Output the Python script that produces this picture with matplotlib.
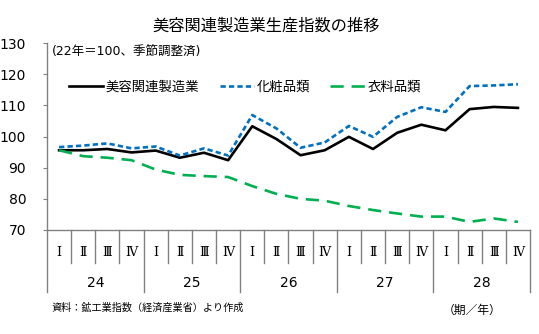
import matplotlib.pyplot as plt
import matplotlib.transforms as mtransforms

plt.rcParams['font.family'] = ['DejaVu Sans', 'Noto Sans CJK JP']

years = ["24", "25", "26", "27", "28"]
quarters = ["Ⅰ", "Ⅱ", "Ⅲ", "Ⅳ"]

beauty = [95.6, 95.6, 96.0, 94.9, 95.5, 93.2, 94.8, 92.4,
          103.3, 99.2, 94.0, 95.6, 99.9, 96.0, 101.2, 103.8,
          102.0, 108.8, 109.5, 109.2]
cosmetics = [96.6, 97.1, 97.8, 96.2, 96.8, 93.9, 96.2, 93.9,
             106.9, 102.6, 96.4, 98.1, 103.4, 99.9, 106.3, 109.4,
             107.9, 116.2, 116.4, 116.8]
clothing = [95.6, 93.7, 93.2, 92.4, 89.4, 87.7, 87.3, 87.0,
            84.1, 81.6, 80.0, 79.4, 77.7, 76.4, 75.3, 74.3,
            74.3, 72.6, 73.7, 72.6]

fig = plt.figure(figsize=(5.39, 3.34), dpi=100)
ax = fig.add_axes([0.0872, 0.3114, 0.8961, 0.5596])

n = len(beauty)
x = [i + 0.5 for i in range(n)]

ax.plot(x, beauty, color='black', lw=1.9, label='美容関連製造業')
ax.plot(x, cosmetics, color='#0070C0', lw=1.9, dashes=(2.0, 1.2), label='化粧品類')
ax.plot(x, clothing, color='#00B050', lw=1.9, dashes=(5.0, 3.0), label='衣料品類')

ax.set_xlim(0, n)
ax.set_ylim(70, 130)
ax.set_yticks(range(70, 131, 10))
ax.set_xticks([])
ax.tick_params(axis='y', length=3, color='#808080', labelsize=10, pad=12)
for s in ['top', 'right']:
    ax.spines[s].set_visible(False)
for s in ['left', 'bottom']:
    ax.spines[s].set_color('#808080')
    ax.spines[s].set_linewidth(1.0)

# category axis below the plot
trans = mtransforms.blended_transform_factory(ax.transData, ax.transAxes)
for i in range(n + 1):
    low = -0.332 if i % 4 == 0 else -0.176
    ax.plot([i, i], [0, low], transform=trans, color='#808080', lw=1.0, clip_on=False)
for i in range(n):
    ax.text(i + 0.5, -0.12, quarters[i % 4], transform=trans, ha='center', va='center',
            fontsize=9, family=['DejaVu Serif', 'Noto Sans CJK JP'])
for k, yr in enumerate(years):
    ax.text(k * 4 + 2, -0.285, yr, transform=trans, ha='center', va='center', fontsize=10)

fig.text(0.493, 0.922, '美容関連製造業生産指数の推移', ha='center', va='center', fontsize=11.7)
ax.text(0.01, 0.95, '(22年＝100、季節調整済)', transform=ax.transAxes, ha='left', va='center',
        fontsize=9)
ax.legend(loc='upper left', bbox_to_anchor=(0.02, 0.865), ncol=3, frameon=False,
          fontsize=9.6, handlelength=2.6, handletextpad=0.2, columnspacing=1.5)

fig.text(0.096, 0.078, '資料：鉱工業指数（経済産業省）より作成', ha='left', va='center', fontsize=7.3)
fig.text(0.822, 0.072, '（期／年）', ha='left', va='center', fontsize=8.5)

fig.savefig('out.png', dpi=100)
